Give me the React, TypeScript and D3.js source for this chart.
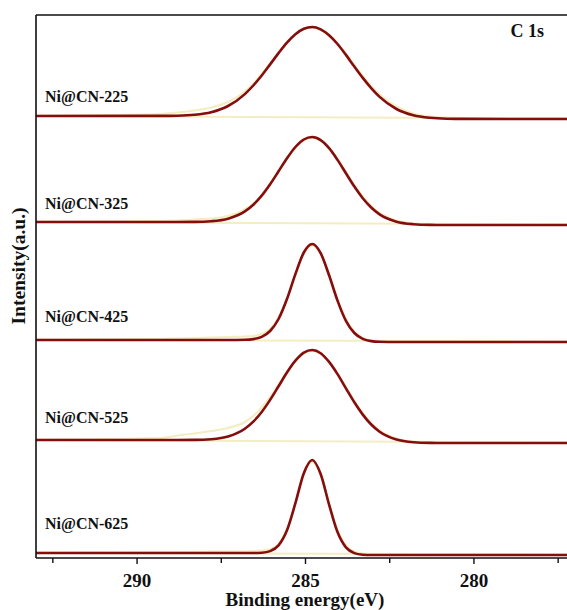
import React from "react";
import * as d3 from "d3";

// Binding energy grid (eV)
const energy = [293, 289.3, 288.8, 288.3, 287.8, 287.3, 286.8, 286.55, 286.3, 286.05, 285.8, 285.55, 285.3, 285.05, 284.8, 284.55, 284.3, 284.05, 283.8, 283.55, 283.3, 283.05, 282.8, 282.3, 281.8, 281.3, 280.8, 280.3, 277];

const samples = ["Ni@CN-225", "Ni@CN-325", "Ni@CN-425", "Ni@CN-525", "Ni@CN-625"];
const offsets = [439, 333, 216, 115, 3];
const tilts = [3, 3, 2, 3, 2];

// Fitted envelopes (a.u., above offset)
const fit225 = [3.0, 3.1, 3.3, 4.2, 6.8, 13.0, 24.9, 33.5, 43.5, 54.6, 65.9, 76.4, 84.8, 90.3, 92.0, 89.7, 83.8, 75.0, 64.1, 52.4, 41.1, 30.9, 22.1, 10.0, 3.8, 1.2, 0.3, 0.1, 0];
const fit325 = [3.0, 3.0, 3.0, 3.1, 3.8, 6.3, 13.6, 20.3, 29.4, 40.8, 53.7, 66.7, 78.0, 85.5, 88.0, 84.9, 76.8, 65.1, 51.7, 38.4, 26.8, 17.5, 10.6, 3.3, 0.8, 0.1, 0, 0, 0];
const fit425 = [2.0, 2.0, 2.0, 2.0, 2.0, 2.0, 2.2, 2.9, 5.2, 11.0, 23.0, 43.0, 67.9, 89.5, 98.0, 88.9, 66.7, 41.4, 21.2, 9.0, 3.2, 0.9, 0.2, 0, 0, 0, 0, 0, 0];
const fit525 = [3.0, 3.0, 3.0, 3.1, 3.8, 6.5, 14.3, 21.3, 31.0, 43.1, 56.7, 70.5, 82.3, 90.4, 93.0, 89.8, 81.1, 68.9, 54.7, 40.7, 28.4, 18.5, 11.3, 3.5, 0.8, 0.1, 0, 0, 0];
const fit625 = [2.0, 2.0, 2.0, 2.0, 2.0, 2.0, 2.0, 2.0, 2.3, 3.9, 9.6, 24.7, 51.8, 81.8, 95.0, 81.0, 50.4, 22.9, 7.6, 1.9, 0.3, 0, 0, 0, 0, 0, 0, 0, 0];

// Raw spectra (a.u., above offset)
const raw225 = [3.5, 5.0, 6.5, 8.5, 11.5, 17.0, 27.5, 35.5, 45.0, 55.5, 66.5, 76.5, 84.5, 89.5, 91.0, 89.0, 83.5, 75.5, 65.0, 54.0, 43.0, 33.0, 24.5, 12.5, 5.5, 2.5, 1.5, 1.0, 0.5];
const raw325 = [3.5, 4.0, 4.5, 5.5, 6.5, 9.0, 15.5, 21.5, 30.0, 41.0, 53.5, 66.0, 77.0, 84.5, 87.0, 84.5, 77.0, 66.0, 53.0, 40.0, 28.5, 19.0, 12.0, 4.5, 1.5, 0.5, 0.2, 0, 0];
const raw425 = [2.5, 3.0, 3.5, 4.0, 4.5, 5.0, 5.5, 6.0, 8.0, 13.0, 24.5, 43.5, 67.5, 88.0, 96.5, 88.0, 67.0, 42.5, 22.5, 10.5, 4.0, 1.5, 0.8, 0.3, 0, 0, 0, 0, 0];
const raw525 = [3.5, 5.0, 7.5, 9.5, 12.0, 15.0, 21.0, 27.0, 35.5, 46.0, 58.5, 71.0, 82.0, 89.5, 92.0, 89.0, 81.0, 69.5, 56.0, 42.0, 30.0, 20.0, 12.5, 4.5, 1.5, 0.5, 0.2, 0, 0];
const raw625 = [2.5, 2.8, 3.0, 3.2, 3.3, 3.4, 3.5, 3.8, 4.5, 6.0, 11.0, 25.5, 51.5, 80.5, 93.0, 80.5, 51.5, 24.5, 9.5, 3.5, 1.5, 0.8, 0.5, 0.3, 0.2, 0.1, 0, 0, 0];

const fits = [fit225, fit325, fit425, fit525, fit625];
const raws = [raw225, raw325, raw425, raw525, raw625];

const majorTicks = [290, 285, 280];
const minorTicks = [292.5, 287.5, 282.5, 277.5];

// layout (pixels)
const labelGap = [14, 13, 18, 17, 24];
const W = 567;
const H = 610;
const left = 36;
const top = 15;
const bottom = 558;

export default function App() {
  const x = d3.scaleLinear().domain([293, 277]).range([left, 575]);
  const y = d3.scaleLinear().domain([0, 543]).range([bottom, top]);
  const font = "'Liberation Serif', 'Times New Roman', serif";
  const FIT = "#850d0d";
  const RAW = "#f3edc2";

  const mkLine = (off: number) =>
    d3
      .line<number>()
      .x((_, i) => x(energy[i]))
      .y((v) => y(off + v))
      .curve(d3.curveMonotoneX);

  return (
    <svg
      width={W}
      height={H}
      style={{ position: "absolute", left: 0, top: 0, background: "#fff" }}
      fontFamily={font}
    >
      <defs>
        <clipPath id="plot">
          <rect x={left} y={top} width={W - left} height={bottom - top} />
        </clipPath>
      </defs>
      <g clipPath="url(#plot)">
        {samples.map((s, k) => (
          <g key={s}>
            <line
              x1={x(293)}
              x2={x(277)}
              y1={y(offsets[k] + tilts[k])}
              y2={y(offsets[k] + 0.5)}
              stroke={RAW}
              strokeWidth={2}
            />
            <path d={mkLine(offsets[k])(raws[k]) || ""} fill="none" stroke={RAW} strokeWidth={2.2} />
            <path d={mkLine(offsets[k])(fits[k]) || ""} fill="none" stroke={FIT} strokeWidth={2.6} />
          </g>
        ))}
      </g>
      {samples.map((s, k) => (
        <text
          key={s}
          x={45}
          y={y(offsets[k] + tilts[k]) - labelGap[k]}
          fontSize={16}
          fontWeight="bold"
          fill="#111"
        >
          {s}
        </text>
      ))}
      <text x={544} y={37} fontSize={18} fontWeight="bold" textAnchor="end" fill="#111">
        C 1s
      </text>
      {/* frame */}
      <line x1={left} x2={W} y1={top} y2={top} stroke="#111" strokeWidth={1.6} />
      <line x1={left} x2={left} y1={top} y2={bottom} stroke="#111" strokeWidth={1.6} />
      <line x1={left} x2={W} y1={bottom} y2={bottom} stroke="#111" strokeWidth={1.6} />
      {majorTicks.map((t) => (
        <g key={t}>
          <line x1={x(t)} x2={x(t)} y1={bottom} y2={bottom + 6} stroke="#111" strokeWidth={1.4} />
          <text x={x(t)} y={587} fontSize={19} fontWeight="bold" textAnchor="middle" fill="#111">
            {t}
          </text>
        </g>
      ))}
      {minorTicks.map((t) => (
        <line key={t} x1={x(t)} x2={x(t)} y1={bottom} y2={bottom + 5} stroke="#111" strokeWidth={1.4} />
      ))}
      <text x={305} y={606} fontSize={19} fontWeight="bold" textAnchor="middle" fill="#111">
        Binding energy(eV)
      </text>
      <text
        transform={`translate(25,266) rotate(-90)`}
        fontSize={19.5}
        fontWeight="bold"
        textAnchor="middle"
        fill="#111"
      >
        Intensity(a.u.)
      </text>
    </svg>
  );
}
